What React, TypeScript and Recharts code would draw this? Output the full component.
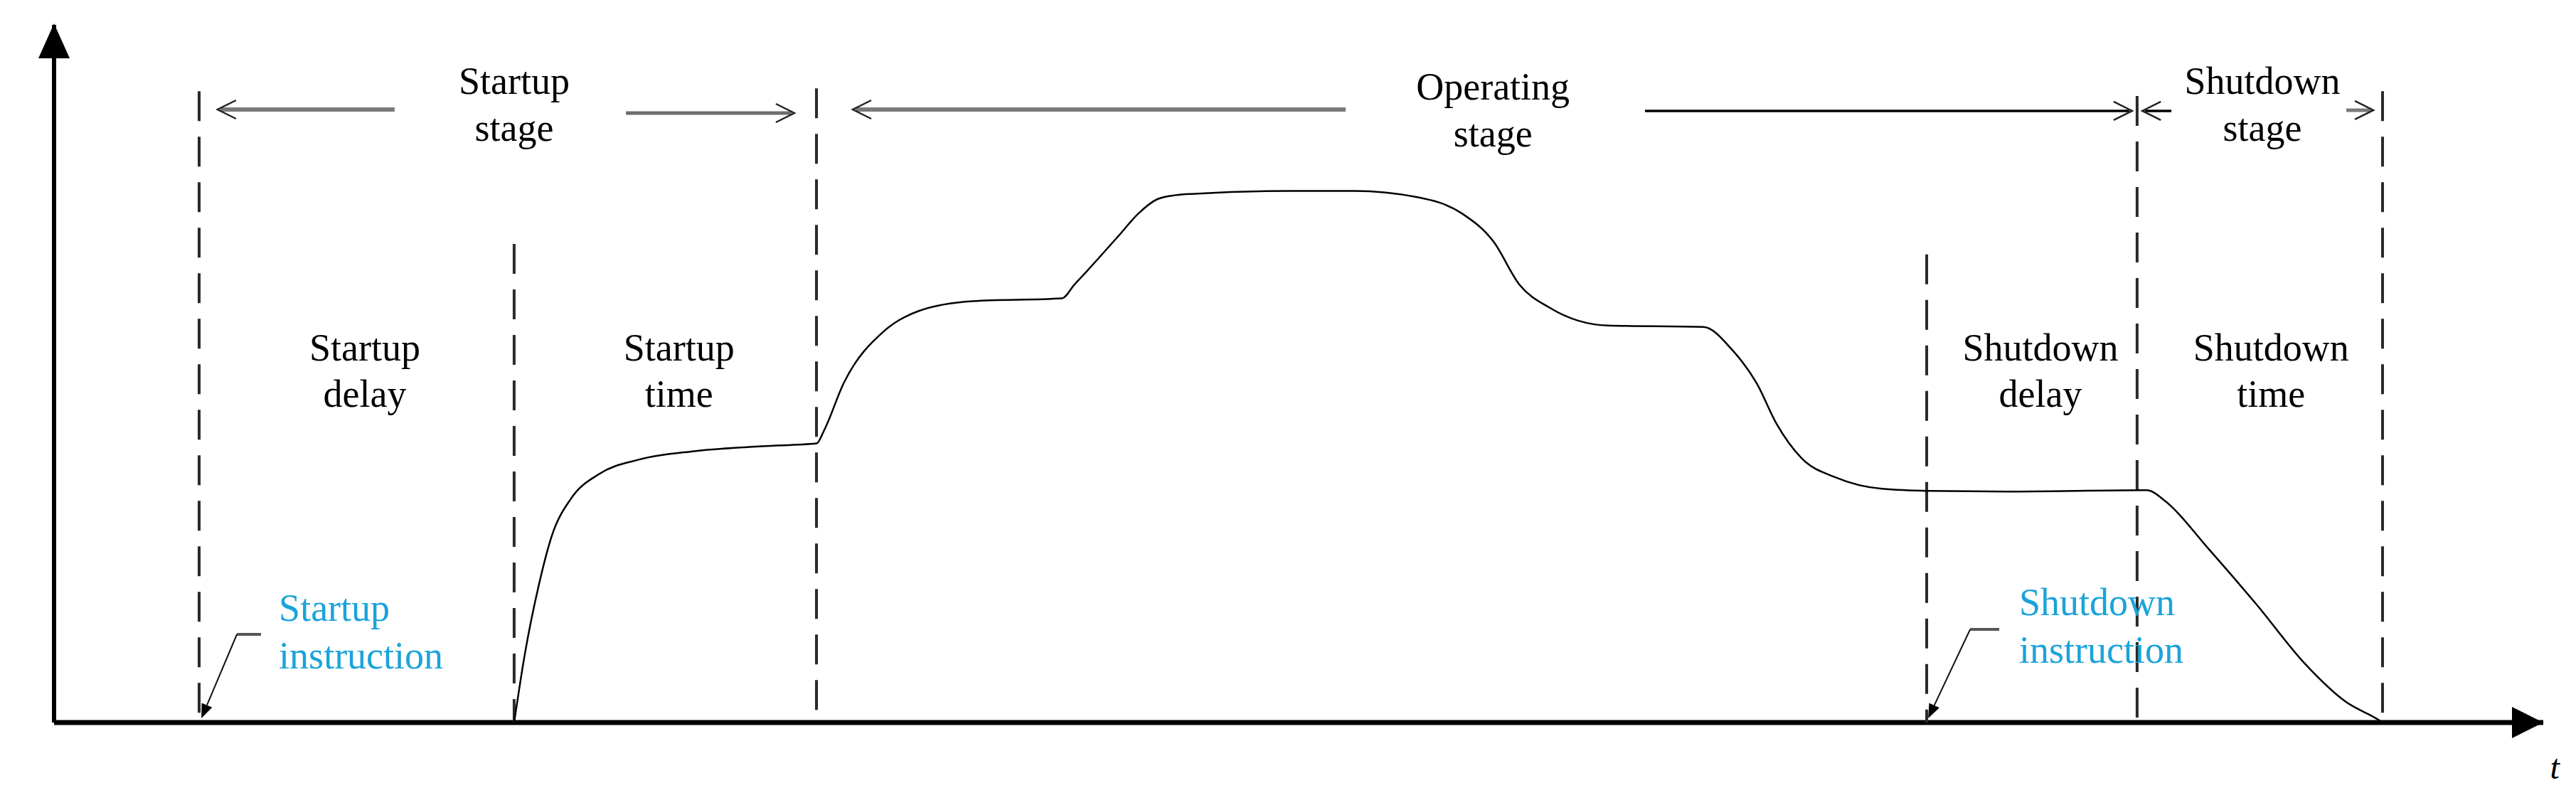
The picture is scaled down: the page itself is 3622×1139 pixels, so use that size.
import React from 'react';
import { ComposedChart, Line, XAxis, YAxis, ReferenceLine, ReferenceDot } from 'recharts';

// ---- data (abstract time / output units) ----
const curveTime = [18.52, 18.95, 19.5, 20.04, 20.81, 21.93, 23.56, 25.77, 28.49, 30.69, 31.0, 31.78, 33.44, 34.81, 36.99, 40.57, 41.08, 41.6, 42.86, 43.63, 44.4, 45.15, 45.92, 49.76, 52.33, 54.88, 56.66, 57.95, 58.98, 60.23, 62.55, 66.39, 67.53, 68.54, 69.34, 70.34, 71.74, 73.58, 75.44, 78.59, 84.23, 85.03, 86.63, 88.64, 90.64, 92.24, 93.65, 93.73];
const curveOutput = [0, 9.8, 19.5, 26.8, 32.1, 35.6, 37.7, 38.9, 39.6, 40.0, 41.9, 48.6, 56.2, 59.0, 60.4, 60.8, 62.8, 64.8, 69.8, 72.9, 75.0, 75.6, 75.8, 76.2, 76.2, 75.3, 73.0, 68.9, 62.8, 59.4, 56.9, 56.7, 53.5, 48.6, 42.8, 37.9, 35.1, 33.5, 33.2, 33.1, 33.3, 31.6, 25.3, 17.0, 8.3, 3.0, 0.2, 0];

const boundaryTime = [5.84, 18.52, 30.69, 75.38, 83.85, 93.73];
const boundaryTop = [90.5, 68.6, 90.9, 67.1, 89.8, 90.5];

const stageNames = ['Startup', 'Operating', 'Shutdown'];
const stageWord = 'stage';
const stageCenter = [18.52, 57.92, 88.89];
const stageLevel = [90.11, 89.3, 90.11];

const stageArrowTail = [13.71, 23.02, 51.99, 64.04, 85.23, 92.27];
const stageArrowTip = [6.58, 29.8, 32.15, 83.65, 84.06, 93.36];
const stageArrowLevel = [87.87, 87.36, 87.87, 87.67, 87.67, 87.77];

const phaseFirst = ['Startup', 'Startup', 'Shutdown', 'Shutdown'];
const phaseSecond = ['delay', 'time', 'delay', 'time'];
const phaseCenter = [12.51, 25.16, 79.96, 89.24];
const phaseLevel = 51.89;

const instructionNames = ['Startup', 'Shutdown'];
const instructionWord = 'instruction';
const instructionTextTime = [9.05, 79.1];
const instructionTextLevel = [14.58, 15.39];
const instructionElbowStart = [8.33, 78.3];
const instructionElbowEnd = [7.36, 77.13];
const instructionElbowLevel = [12.64, 13.35];
const instructionTarget = [5.93, 75.44];
const instructionTargetLevel = 0.61;

const axisTimeMax = 100.2;
const axisOutputMax = 100;
const timeSymbol = 't';
const timeSymbolTime = 100.66;
const timeSymbolLevel = -8.05;

const data = curveTime.map((t, i) => ({ t, v: curveOutput[i] }));

// ---- styles ----
const W = 3622;
const H = 1139;
const FONT = '"Liberation Serif", "Times New Roman", serif';
const LABEL_SIZE = 54;
const BLUE = '#1BA3DA';
const stageArrowColor = ['#7a7a7a', '#6e6e6e', '#7a7a7a', '#000', '#000', '#7a7a7a'];
const stageArrowWidth = [6, 5, 6, 3.5, 3.5, 5];

const stageArrowShape = (i: number) => (p: any) => {
  const { x1, y1, x2, y2 } = p;
  const dir = x2 > x1 ? 1 : -1;
  const len = 26;
  const half = 13;
  return (
    <g>
      <line x1={x1} y1={y1} x2={x2 - dir * 4} y2={y2} stroke={stageArrowColor[i]} strokeWidth={stageArrowWidth[i]} />
      <polyline
        points={`${x2 - dir * len},${y2 - half} ${x2},${y2} ${x2 - dir * len},${y2 + half}`}
        fill="none"
        stroke="#222"
        strokeWidth={2.5}
      />
    </g>
  );
};

const leaderShape = (withHead: boolean, color: string, width: number) => (p: any) => {
  const { x1, y1, x2, y2 } = p;
  if (!withHead) {
    return <line x1={x1} y1={y1} x2={x2} y2={y2} stroke={color} strokeWidth={width} />;
  }
  const dx = x2 - x1;
  const dy = y2 - y1;
  const L = Math.sqrt(dx * dx + dy * dy) || 1;
  const ux = dx / L;
  const uy = dy / L;
  const hl = 20;
  const hw = 8;
  const bx = x2 - ux * hl;
  const by = y2 - uy * hl;
  return (
    <g>
      <line x1={x1} y1={y1} x2={bx} y2={by} stroke={color} strokeWidth={width} />
      <polygon
        points={`${x2},${y2} ${bx - uy * hw},${by + ux * hw} ${bx + uy * hw},${by - ux * hw}`}
        fill="#000"
      />
    </g>
  );
};

const plainLine = (color: string, width: number) => (p: any) => {
  const { x1, y1, x2, y2 } = p;
  return <line x1={x1} y1={y1} x2={x2} y2={y2} stroke={color} strokeWidth={width} />;
};

const twoLineText = (a: string, b: string, anchor: 'middle' | 'start', fill: string, gap: number) => (p: any) => {
  const { cx, cy } = p;
  return (
    <text x={cx} y={cy} textAnchor={anchor} fontFamily={FONT} fontSize={LABEL_SIZE} fill={fill}>
      <tspan x={cx} y={cy}>{a}</tspan>
      <tspan x={cx} y={cy + gap}>{b}</tspan>
    </text>
  );
};

const yArrowHead = (p: any) => {
  const { cx, cy } = p;
  return <polygon points={`${cx},${cy - 2} ${cx - 22},${cy + 47} ${cx + 22},${cy + 47}`} fill="#000" />;
};

const xArrowHead = (p: any) => {
  const { cx, cy } = p;
  return <polygon points={`${cx},${cy} ${cx - 44},${cy - 22} ${cx - 44},${cy + 22}`} fill="#000" />;
};

const timeSymbolShape = (p: any) => {
  const { cx, cy } = p;
  return (
    <text x={cx} y={cy} textAnchor="middle" fontFamily={FONT} fontStyle="italic" fontSize={48} fill="#000">
      {timeSymbol}
    </text>
  );
};

export default function App() {
  return (
    <div style={{ position: 'absolute', left: 0, top: 0, width: W, height: H, background: '#fff' }}>
      <ComposedChart
        width={W}
        height={H}
        data={data}
        margin={{ top: 35, right: 46, bottom: 123, left: 76 }}
      >
        <XAxis
          dataKey="t"
          type="number"
          domain={[0, axisTimeMax]}
          allowDataOverflow
          height={0}
          tick={false}
          tickLine={false}
          axisLine={false}
        />
        <YAxis
          type="number"
          domain={[0, axisOutputMax]}
          allowDataOverflow
          width={0}
          tick={false}
          tickLine={false}
          axisLine={false}
        />

        {/* axes */}
        <ReferenceLine
          segment={[{ x: 0, y: 0 }, { x: 0, y: axisOutputMax }]}
          ifOverflow="visible"
          shape={plainLine('#000', 6)}
        />
        <ReferenceLine
          segment={[{ x: 0, y: 0 }, { x: axisTimeMax, y: 0 }]}
          ifOverflow="visible"
          shape={plainLine('#000', 7)}
        />

        {boundaryTime.map((x, i) => (
          <ReferenceLine
            key={'b' + i}
            segment={[{ x, y: boundaryTop[i] }, { x, y: 0 }]}
            stroke="#2a2a2a"
            strokeWidth={4}
            strokeDasharray="42 22"
            ifOverflow="visible"
          />
        ))}

        <Line
          dataKey="v"
          type="monotone"
          stroke="#000"
          strokeWidth={2.5}
          dot={false}
          activeDot={false}
          isAnimationActive={false}
        />

        {stageArrowTail.map((tail, i) => (
          <ReferenceLine
            key={'sa' + i}
            segment={[{ x: tail, y: stageArrowLevel[i] }, { x: stageArrowTip[i], y: stageArrowLevel[i] }]}
            ifOverflow="visible"
            shape={stageArrowShape(i)}
          />
        ))}

        {stageNames.map((name, i) => (
          <ReferenceDot
            key={'sl' + i}
            x={stageCenter[i]}
            y={stageLevel[i]}
            r={0}
            ifOverflow="visible"
            shape={twoLineText(name, stageWord, 'middle', '#000', 66)}
          />
        ))}

        {phaseFirst.map((a, i) => (
          <ReferenceDot
            key={'pl' + i}
            x={phaseCenter[i]}
            y={phaseLevel}
            r={0}
            ifOverflow="visible"
            shape={twoLineText(a, phaseSecond[i], 'middle', '#000', 65)}
          />
        ))}

        {instructionNames.map((name, i) => (
          <ReferenceDot
            key={'il' + i}
            x={instructionTextTime[i]}
            y={instructionTextLevel[i]}
            r={0}
            ifOverflow="visible"
            shape={twoLineText(name, instructionWord, 'start', BLUE, 67)}
          />
        ))}

        {instructionNames.map((name, i) => (
          <ReferenceLine
            key={'ie' + i}
            segment={[
              { x: instructionElbowStart[i], y: instructionElbowLevel[i] },
              { x: instructionElbowEnd[i], y: instructionElbowLevel[i] },
            ]}
            ifOverflow="visible"
            shape={leaderShape(false, '#555', 4)}
          />
        ))}
        {instructionNames.map((name, i) => (
          <ReferenceLine
            key={'ia' + i}
            segment={[
              { x: instructionElbowEnd[i], y: instructionElbowLevel[i] },
              { x: instructionTarget[i], y: instructionTargetLevel },
            ]}
            ifOverflow="visible"
            shape={leaderShape(true, '#111', 2)}
          />
        ))}

        <ReferenceDot x={0} y={axisOutputMax} r={0} ifOverflow="visible" shape={yArrowHead} />
        <ReferenceDot x={axisTimeMax} y={0} r={0} ifOverflow="visible" shape={xArrowHead} />
        <ReferenceDot x={timeSymbolTime} y={timeSymbolLevel} r={0} ifOverflow="visible" shape={timeSymbolShape} />
      </ComposedChart>
    </div>
  );
}
